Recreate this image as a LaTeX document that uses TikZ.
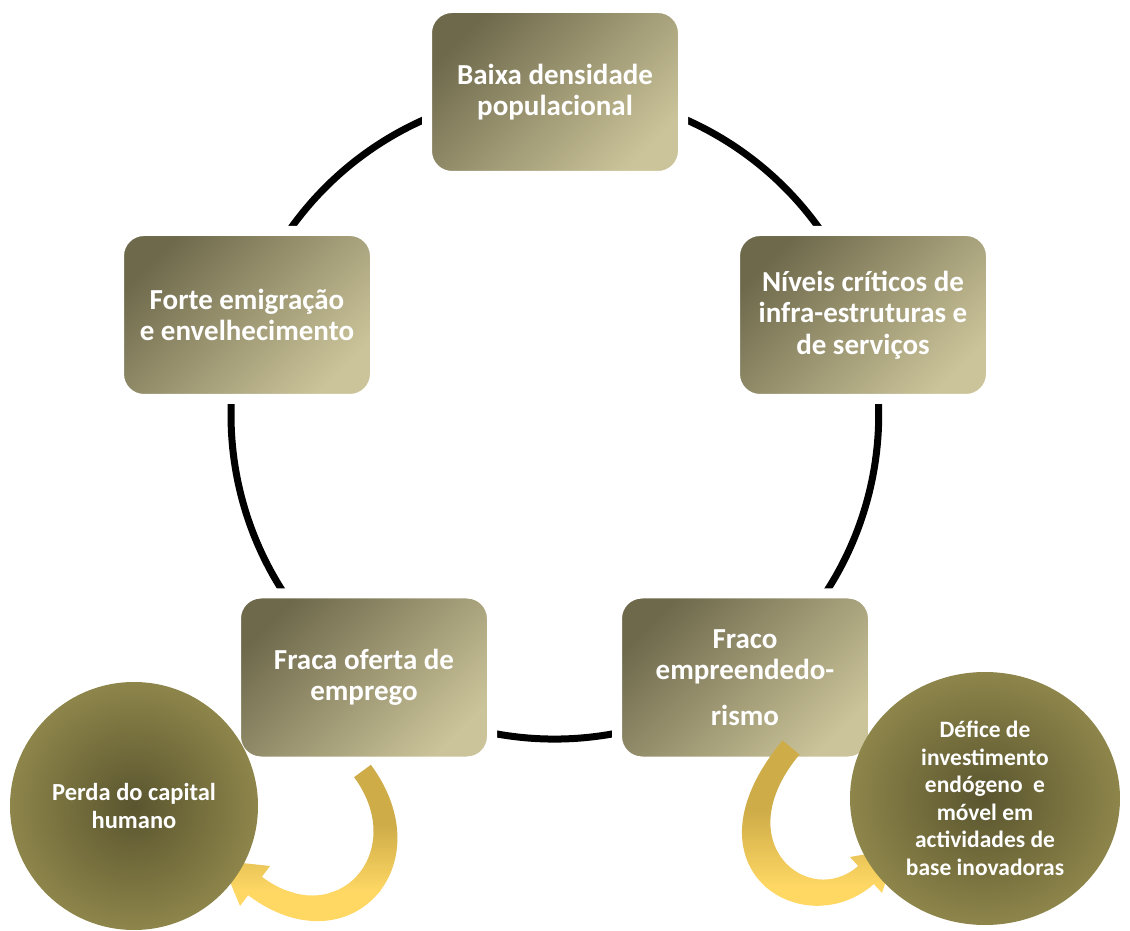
\documentclass[tikz,border=0pt]{standalone}
\usepackage{fontspec}
\setmainfont{Carlito}
\usetikzlibrary{shapes.geometric,backgrounds}
\definecolor{boxdark}{RGB}{110,105,75}
\definecolor{boxlight}{RGB}{203,196,154}
\definecolor{balldark}{RGB}{90,85,47}
\definecolor{balllight}{RGB}{141,133,74}
\definecolor{arrgold}{RGB}{206,172,72}
\definecolor{arryellow}{RGB}{255,216,100}
\begin{document}
\begin{tikzpicture}[x=1pt,y=1pt,
  box/.style={rectangle, shade, top color=boxdark, bottom color=boxlight, shading angle=45,
    draw=white, line width=10pt, rounded corners=25pt,
    minimum width=256pt, minimum height=168pt, inner sep=0pt,
    text=white, align=center, font=\bfseries\fontsize{29}{31.5}\selectfont},
  ball/.style={inner sep=0pt, inner color=balldark, outer color=balllight,
    text=white, align=center, font=\bfseries\fontsize{23.5}{27.5}\selectfont},
  ring/.style={line width=7pt, draw=black},
  goldshade/.style={top color=arrgold, bottom color=arryellow, middle color=arrgold}
]
\useasboundingbox (0,0) rectangle (1130,930);

% boxes on the ring
\node[box] (top)   at (555,838)   {Baixa densidade\\populacional};
\node[box] (right) at (863,615)   {Níveis críticos de\\infra-estruturas e\\de serviços};
\node[box] (br)    at (745,252.5) {Fraco\\empreendedo-\\[14pt]rismo};
\node[box] (bl)    at (364,252.5) {Fraca oferta de\\emprego};
\node[box] (left)  at (247,615)   {Forte emigração\\e envelhecimento};

% ring connectors
\begin{scope}[on background layer]
  \fill[white] (0,0) rectangle (1130,930);
  \draw[ring] (top.center)   to[bend left=36, looseness=0.94] (right.center);
  \draw[ring] (right.center) to[bend left=36, looseness=0.94] (br.center);
  \draw[ring] (br.center)    to[bend left=36, looseness=0.94] (bl.center);
  \draw[ring] (bl.center)    to[bend left=36, looseness=0.94] (left.center);
  \draw[ring] (left.center)  to[bend left=36, looseness=0.94] (top.center);
\end{scope}

% curved block arrow, left
\begin{scope}
  \clip (370.9,165.2) .. controls (445.5,64) and (349.3,-41.1) .. (248.1,34.8)
    -- (240,24) -- (221.4,69.2) -- (270,64) -- (261.9,53.2)
    .. controls (336.7,-2.9) and (409.3,78) .. (354.1,152.8) -- cycle;
  \fill[arryellow] (200,0) rectangle (460,40);
  \shade[goldshade] (200,38) rectangle (460,172);
\end{scope}

% curved block arrow, right
\begin{scope}
  \clip (782.5,189.5) .. controls (676.8,62.3) and (803.1,-16.3) .. (873.9,46)
    -- (882,37) -- (896,81) -- (850,73) -- (858.1,64)
    .. controls (808.9,20.7) and (726,87.1) .. (799.5,175.5) -- cycle;
  \fill[arryellow] (660,0) rectangle (910,45);
  \shade[goldshade] (660,43) rectangle (910,195);
\end{scope}

% outcome circles
\node[ball, circle, minimum size=248pt, font=\bfseries\fontsize{24.5}{27.5}\selectfont] (perda) at (134,124) {Perda do capital\\humano};
\node[ball, ellipse, minimum width=270pt, minimum height=253pt] (defice) at (985,131.5)
  {Défice de\\investimento\\endógeno\ \ e\\móvel em\\actividades de\\base inovadoras};
\end{tikzpicture}
\end{document}
